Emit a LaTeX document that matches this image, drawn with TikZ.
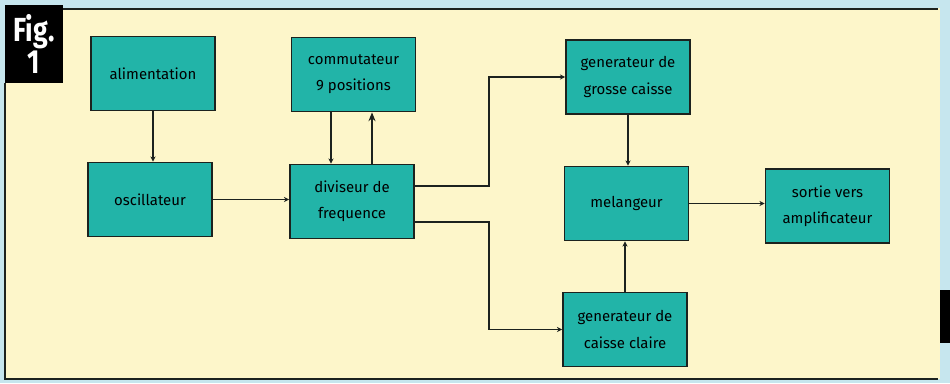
\documentclass[tikz,border=0pt]{standalone}
\usepackage{fontspec}
\setmainfont{Fira Sans}
\newfontfamily\figfont[FakeStretch=0.8]{Fira Sans}
\usetikzlibrary{arrows.meta}

\definecolor{sky}{RGB}{198,230,238}
\definecolor{panel}{RGB}{253,246,202}
\definecolor{block}{RGB}{34,180,168}
\definecolor{ink}{RGB}{28,34,30}

\tikzset{
  bloc/.style={draw=ink, line width=1pt, fill=block, minimum width=2.48cm,
    minimum height=1.48cm, inner sep=0pt, align=center,
    font=\fontsize{8.5}{15}\selectfont},
  fil/.style={draw=ink, line width=0.8pt, -{Stealth[length=3pt, width=3pt]}},
}

\begin{document}
\begin{tikzpicture}[x=0.02cm, y=-0.02cm]
    \useasboundingbox (0, 0) rectangle (950, 383);
    \fill [sky]      (0, 0) rectangle (950, 383);
    \fill [panel]    (5, 8) rectangle (940, 379);
    \draw [ink, line width=1pt] (63, 9) -- (938, 9);
    \draw [ink, line width=1pt] (5, 83) -- (5, 379) -- (938, 379);
    \fill [black]    (940, 290) rectangle (950, 343);
    % Fig. 1
    \node (fig) [fill=black, text=white, minimum width=1.16cm, minimum height=1.56cm,
      inner sep=0pt, align=center, font=\figfont\bfseries\fontsize{19}{17}\selectfont]
      at (34, 44) {Fig.\\1};
    % blocks
    \node (alim) [bloc] at (153, 73.5)  {alimentation};
    \node (osc)  [bloc] at (150, 199.5) {oscillateur};
    \node (comm) [bloc] at (353.5, 74.5) {commutateur\\9 positions};
    \node (div)  [bloc] at (352, 201.5) {diviseur de\\frequence};
    \node (gros) [bloc] at (628, 77)    {generateur de\\grosse caisse};
    \node (mel)  [bloc] at (626.5, 203.5) {melangeur};
    \node (sort) [bloc] at (827.5, 206) {sortie vers\\amplificateur};
    \node (clai) [bloc] at (625, 329.5) {generateur de\\caisse claire};
    % links
    \coordinate (bus)   at (489, 200);
    \coordinate (divHi) at ([yshift=0.31cm]div.east);
    \coordinate (divLo) at ([yshift=-0.41cm]div.east);
    \coordinate (commL) at ([xshift=-0.45cm]comm.south);
    \coordinate (divR)  at ([xshift=0.4cm]div.north);
    \draw [fil]      (alim.south) -- (alim.south |- osc.north);
    \draw [fil]      (osc.east) -- (osc.east -| div.west);
    \draw [fil]      (commL) -- (commL |- div.north);
    \draw [fil, line width=1.2pt, -{Stealth[length=5pt, width=4pt]}]
                     (divR) -- (divR |- comm.south);
    \draw [fil]      (divHi) -- (divHi -| bus) |- (gros.west);
    \draw [fil]      (divLo) -- (divLo -| bus) |- (clai.west);
    \draw [fil]      (gros.south) -- (gros.south |- mel.north);
    \draw [fil]      (clai.north) -- (clai.north |- mel.south);
    \draw [fil]      (mel.east) -- (mel.east -| sort.west);
\end{tikzpicture}
\end{document}
